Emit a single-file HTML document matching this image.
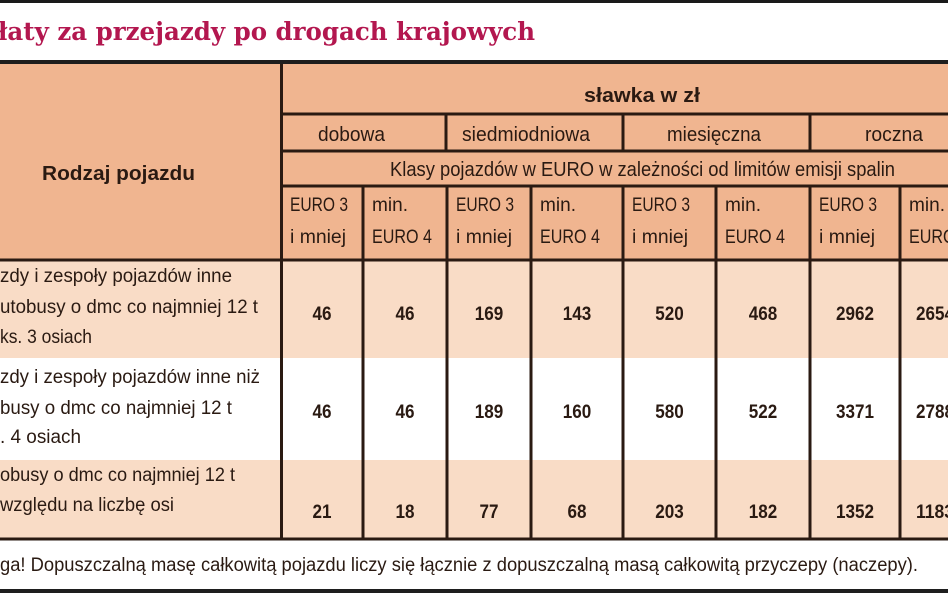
<!DOCTYPE html>
<html><head><meta charset="utf-8"><style>
html,body{margin:0;padding:0;background:#fff;width:948px;height:593px;overflow:hidden}
svg{display:block}
text{font-family:"Liberation Sans",sans-serif;fill:#2a1a12}
</style></head><body>
<svg width="948" height="593" viewBox="0 0 948 593">
<rect x="0" y="0" width="948" height="3" fill="#1a1a1a"/>
<text x="-2" y="40" font-weight="900" font-size="25" style="fill:#b3174f;font-family:'DejaVu Serif',serif;font-weight:bold" textLength="537" lengthAdjust="spacingAndGlyphs">łaty za przejazdy po drogach krajowych</text>
<rect x="0" y="60" width="948" height="4" fill="#1e1e1e"/>
<rect x="0" y="64" width="948" height="196" fill="#f0b590"/>
<rect x="0" y="260" width="948" height="98" fill="#f9dcc6"/>
<rect x="0" y="358" width="948" height="102" fill="#ffffff"/>
<rect x="0" y="460" width="948" height="78" fill="#f9dcc6"/>
<g stroke="#2a1a12">
<line x1="281.5" y1="64" x2="281.5" y2="538" stroke-width="3"/>
<line x1="281" y1="114" x2="948" y2="114" stroke-width="3"/>
<line x1="281" y1="151" x2="948" y2="151" stroke-width="3"/>
<line x1="281" y1="186" x2="948" y2="186" stroke-width="3"/>
<line x1="0" y1="260" x2="948" y2="260" stroke-width="3"/>
<line x1="446" y1="114" x2="446" y2="151" stroke-width="3"/>
<line x1="623" y1="114" x2="623" y2="151" stroke-width="3"/>
<line x1="810" y1="114" x2="810" y2="151" stroke-width="3"/>
<line x1="363" y1="186" x2="363" y2="538" stroke-width="3"/>
<line x1="447" y1="186" x2="447" y2="538" stroke-width="3"/>
<line x1="531" y1="186" x2="531" y2="538" stroke-width="3"/>
<line x1="623" y1="186" x2="623" y2="538" stroke-width="3"/>
<line x1="716" y1="186" x2="716" y2="538" stroke-width="3"/>
<line x1="810" y1="186" x2="810" y2="538" stroke-width="3"/>
<line x1="900" y1="186" x2="900" y2="538" stroke-width="3"/>
<line x1="0" y1="539" x2="948" y2="539" stroke-width="3"/>
</g>
<rect x="0" y="589" width="948" height="4" fill="#1e1e1e"/>
<g font-size="20">
<text x="42" y="180" font-weight="bold" textLength="153" lengthAdjust="spacingAndGlyphs">Rodzaj pojazdu</text>
<text x="584" y="102" font-weight="bold" textLength="116" lengthAdjust="spacingAndGlyphs">sławka w zł</text>
<text x="318" y="141" textLength="67" lengthAdjust="spacingAndGlyphs">dobowa</text>
<text x="462" y="141" textLength="128" lengthAdjust="spacingAndGlyphs">siedmiodniowa</text>
<text x="667" y="141" textLength="94" lengthAdjust="spacingAndGlyphs">miesięczna</text>
<text x="865" y="141" textLength="58" lengthAdjust="spacingAndGlyphs">roczna</text>
<text x="390" y="176" textLength="505" lengthAdjust="spacingAndGlyphs">Klasy pojazdów w EURO w zależności od limitów emisji spalin</text>
</g>
<g font-size="19" id="subhdr"></g>
<g font-size="19" id="rowlabels">
<text x="0" y="282" textLength="232" lengthAdjust="spacingAndGlyphs">zdy i zespoły pojazdów inne</text>
<text x="0" y="313" textLength="258" lengthAdjust="spacingAndGlyphs">utobusy o dmc co najmniej 12 t</text>
<text x="0" y="343" textLength="92" lengthAdjust="spacingAndGlyphs">ks. 3 osiach</text>
<text x="0" y="383" textLength="260" lengthAdjust="spacingAndGlyphs">zdy i zespoły pojazdów inne niż</text>
<text x="0" y="414" textLength="232" lengthAdjust="spacingAndGlyphs">busy o dmc co najmniej 12 t</text>
<text x="0" y="443" textLength="81" lengthAdjust="spacingAndGlyphs">. 4 osiach</text>
<text x="0" y="481" textLength="235" lengthAdjust="spacingAndGlyphs">obusy o dmc co najmniej 12 t</text>
<text x="0" y="511" textLength="174" lengthAdjust="spacingAndGlyphs">względu na liczbę osi</text>
</g>
<g font-size="19" font-weight="bold" id="cells"></g>
<text x="0" y="571" font-size="19" textLength="918" lengthAdjust="spacingAndGlyphs">ga! Dopuszczalną masę całkowitą pojazdu liczy się łącznie z dopuszczalną masą całkowitą przyczepy (naczepy).</text>
</svg>
<script>
const rowValues1 = ["46","46","169","143","520","468","2962","2654"];
const rowValues2 = ["46","46","189","160","580","522","3371","2788"];
const rowValues3 = ["21","18","77","68","203","182","1352","1183"];
const rows = [rowValues1,rowValues2,rowValues3];
const rowY = [320,418,518];
const colL = [281,363,447,531,623,716,810,900];
const colR = [363,447,531,623,716,810,900,990];
const NS="http://www.w3.org/2000/svg";
const cells=document.getElementById('cells');
rows.forEach((r,i)=>r.forEach((v,j)=>{
  const t=document.createElementNS(NS,'text');
  
  
  if(j<7){t.setAttribute('x',(colL[j]+colR[j])/2);t.setAttribute('text-anchor','middle');}
  else{t.setAttribute('x',916);}
  t.setAttribute('y',rowY[i]);
  t.setAttribute('textLength',v.length*9.5);
  t.setAttribute('lengthAdjust','spacingAndGlyphs');
  t.textContent=v;cells.appendChild(t);
}));
const sub=document.getElementById('subhdr');
colL.forEach((x,j)=>{
  const a=j%2===0?[["EURO 3",58],["i mniej",56]]:[["min.",36],["EURO 4",60]];
  [[a[0],211],[a[1],243]].forEach(([s,y])=>{
    const t=document.createElementNS(NS,'text');
    
    
    t.setAttribute('x',x+9);t.setAttribute('y',y);
    t.setAttribute('textLength',s[1]);
    t.setAttribute('lengthAdjust','spacingAndGlyphs');
    t.textContent=s[0];sub.appendChild(t);
  });
});
</script>
</body></html>
